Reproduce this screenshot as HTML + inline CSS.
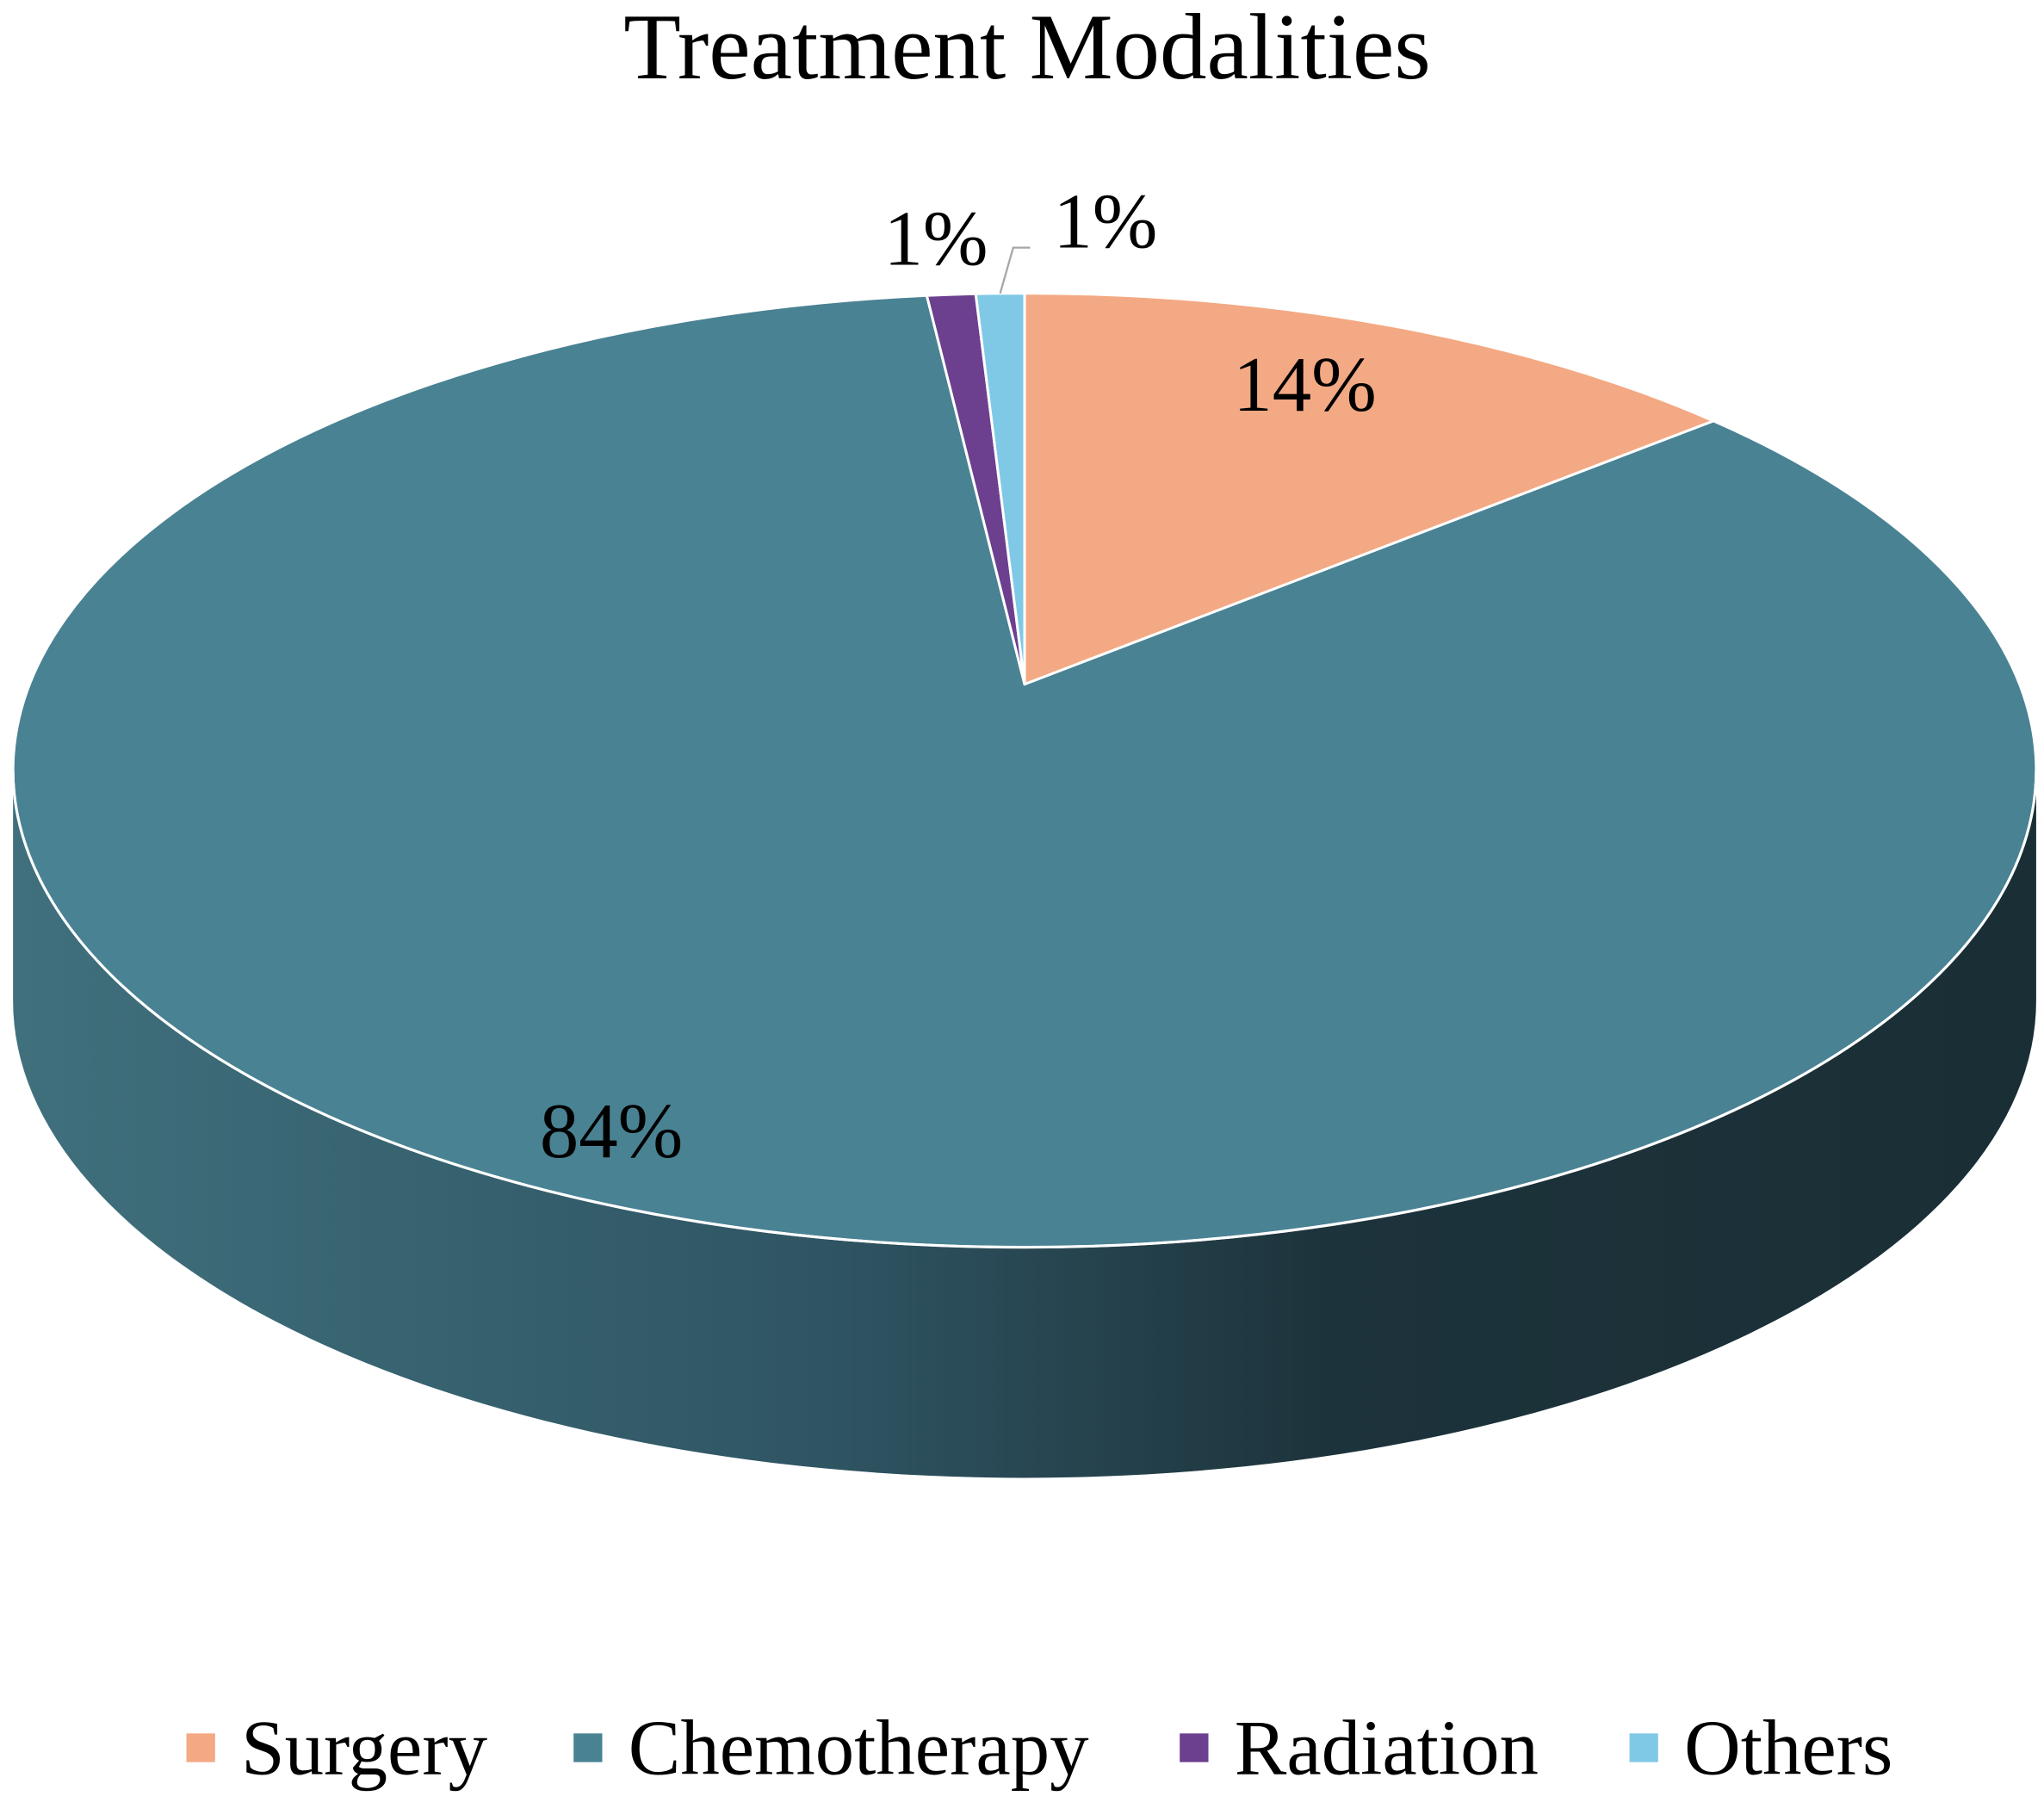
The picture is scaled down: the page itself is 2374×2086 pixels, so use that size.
<!DOCTYPE html>
<html><head><meta charset="utf-8"><style>
html,body{margin:0;padding:0;background:#fff}
svg{display:block}
text{font-family:"Liberation Serif",serif;fill:#000}
</style></head><body>
<svg id="chart" width="2374" height="2086" viewBox="0 0 1568 1378" preserveAspectRatio="none" xmlns="http://www.w3.org/2000/svg">
<defs>
<linearGradient id="sideGrad" x1="0" x2="1" y1="0" y2="0">
<stop offset="0" stop-color="#40707d"/>
<stop offset="0.4" stop-color="#2f5563"/>
<stop offset="0.65" stop-color="#1d333b"/>
<stop offset="1" stop-color="#1a2e35"/>
</linearGradient>
</defs>
<text x="788" y="60" font-size="72" text-anchor="middle">Treatment Modalities</text>
<g id="pie"></g>
<g id="labels"></g>
<g id="legend"></g>
</svg>
<script>
const categories = ["Surgery","Chemotherapy","Radiation","Others"];
const values = [14, 84, 1, 1];
const labelTexts = ["14%","84%","1%","1%"];
const colors = ["#f3a983","#498293","#6c3f8f","#80c9e6"];

const NS="http://www.w3.org/2000/svg";
const cx=786, cy=591, rx=776, ry=366, depth=177, apexY=525, warp=1.3;
const total=values.reduce((a,b)=>a+b,0);
function warpAngle(th){return Math.atan2(Math.sin(th), Math.cos(th)*warp);}
function pt(th){const t=warpAngle(th);return [cx+rx*Math.sin(t), cy-ry*Math.cos(t)];}
const pie=document.getElementById('pie');

const side=document.createElementNS(NS,'path');


side.setAttribute('d',`M${cx-rx},${cy} A${rx},${ry} 0 0,0 ${cx+rx},${cy} L${cx+rx},${cy+depth} A${rx},${ry} 0 0,1 ${cx-rx},${cy+depth} Z`);
side.setAttribute('fill','url(#sideGrad)');
pie.appendChild(side);

let acc=0;
const mids=[];
values.forEach((v,i)=>{
  const th0=acc/total*2*Math.PI; acc+=v; const th1=acc/total*2*Math.PI;
  const [x0,y0]=pt(th0),[x1,y1]=pt(th1);
  let d0=warpAngle(th0), d1=warpAngle(th1); if(d1<d0) d1+=2*Math.PI;
  const large=(d1-d0)>Math.PI?1:0;
  const p=document.createElementNS(NS,'path');
  
  
  p.setAttribute('d',`M${cx},${apexY} L${x0},${y0} A${rx},${ry} 0 ${large},1 ${x1},${y1} Z`);
  p.setAttribute('fill',colors[i]);
  p.setAttribute('stroke','#fff');
  p.setAttribute('stroke-width','2');
  p.setAttribute('stroke-linejoin','round');
  pie.appendChild(p);
  mids.push((th0+th1)/2);
});
const rim=document.createElementNS(NS,'path');


rim.setAttribute('d',`M${cx-rx},${cy} A${rx},${ry} 0 0,0 ${cx+rx},${cy}`);
rim.setAttribute('fill','none');rim.setAttribute('stroke','#fff');rim.setAttribute('stroke-width','2');
pie.appendChild(rim);

const labels=document.getElementById('labels');
const labelPos=[[1001,315],[469,888],[718,203],[848,190]];
labelTexts.forEach((s,i)=>{
  const t=document.createElementNS(NS,'text');
  
  
  t.setAttribute('x',labelPos[i][0]);t.setAttribute('y',labelPos[i][1]);
  t.setAttribute('font-size','60');t.setAttribute('text-anchor','middle');
  t.textContent=s;labels.appendChild(t);
});
const [lx,ly]=pt(mids[3]);
const leader=document.createElementNS(NS,'polyline');


leader.setAttribute('points',`${lx},${ly} ${lx+10},190 ${lx+23},190`);
leader.setAttribute('fill','none');leader.setAttribute('stroke','#a6a6a6');leader.setAttribute('stroke-width','1.5');
labels.appendChild(leader);

const legend=document.getElementById('legend');
const legX=[143,440,905,1250];
categories.forEach((c,i)=>{
  const g=document.createElementNS(NS,'g');
  
  
  const r=document.createElementNS(NS,'rect');
  
  
  r.setAttribute('x',legX[i]);r.setAttribute('y',1330);r.setAttribute('width',22);r.setAttribute('height',22);
  r.setAttribute('fill',colors[i]);g.appendChild(r);
  const t=document.createElementNS(NS,'text');
  
  
  t.setAttribute('x',legX[i]+42);t.setAttribute('y',1361);t.setAttribute('font-size','60');
  t.textContent=c;g.appendChild(t);
  legend.appendChild(g);
});
</script>
</body></html>
